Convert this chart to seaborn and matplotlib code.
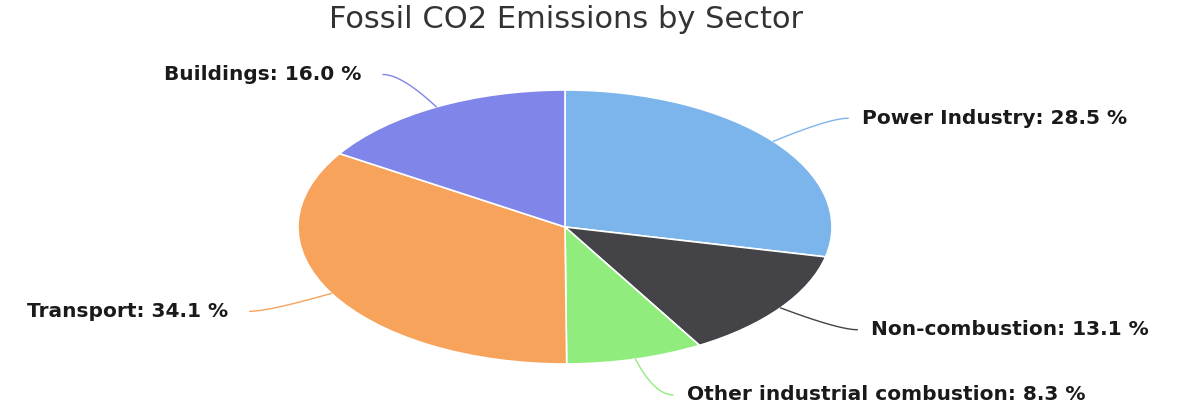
import numpy as np
import pandas as pd
import matplotlib.pyplot as plt
import seaborn as sns

# sector shares (percent), clockwise from 12 o'clock
sectors = ["Power Industry", "Non-combustion", "Other industrial combustion",
           "Transport", "Buildings"]
shares = [28.5, 13.1, 8.3, 34.1, 16.0]
title = "Fossil CO2 Emissions by Sector"

df = pd.DataFrame({"sector": sectors, "share": shares})

sns.set_theme(style="white")
plt.rcParams['font.family'] = ['DejaVu Sans']
colors = sns.color_palette(["#7cb5ec", "#434348", "#90ed7d", "#f7a35c", "#8085e9"])

W, H = 1186, 407
fig = plt.figure(figsize=(W / 100, H / 100), dpi=100)
ax = fig.add_axes([0, 0, 1, 1])

wedges, _ = ax.pie(df["share"], colors=colors, startangle=90, counterclock=False,
                   radius=1, wedgeprops=dict(edgecolor="white", linewidth=1.2))

# stretched pie: centre at (565, 227) px, radii 267 x 137 px
cx, cy, rx, ry = 565, 227, 267, 137
ax.set_aspect('auto')
ax.set_xlim(-cx / rx, (W - cx) / rx)
ax.set_ylim((cy - H) / ry, cy / ry)
ax.axis('off')

# labels with curved connectors
R = 1.27
cum = np.cumsum([0] + shares[:-1])
for (name, val), start, col in zip(zip(sectors, shares), cum, colors):
    theta = np.deg2rad((start + val / 2) / 100 * 360)
    sx, sy = np.sin(theta), np.cos(theta)
    ly = R * sy
    side = 1 if sx >= 0 else -1
    lx = side * np.sqrt(max(R ** 2 - ly ** 2, 0))
    ex = lx + side * 0.07
    t = np.linspace(0, 1, 40)
    bx = (1 - t) ** 2 * sx + 2 * (1 - t) * t * lx + t ** 2 * ex
    by = (1 - t) ** 2 * sy + 2 * (1 - t) * t * ly + t ** 2 * ly
    ax.plot(bx, by, color=col, lw=1)
    gap = 0.12 if side > 0 else 0.15
    ax.text(lx + side * gap, ly, f"{name}: {val:.1f} %",
            ha='left' if side > 0 else 'right', va='center',
            fontsize=14.5, fontweight='bold', color='#1a1a1a')

fig.text(566 / W, 1 - 28 / H, title, ha='center', va='baseline',
         fontsize=22, color='#333333')

fig.savefig("out.png", dpi=100)
